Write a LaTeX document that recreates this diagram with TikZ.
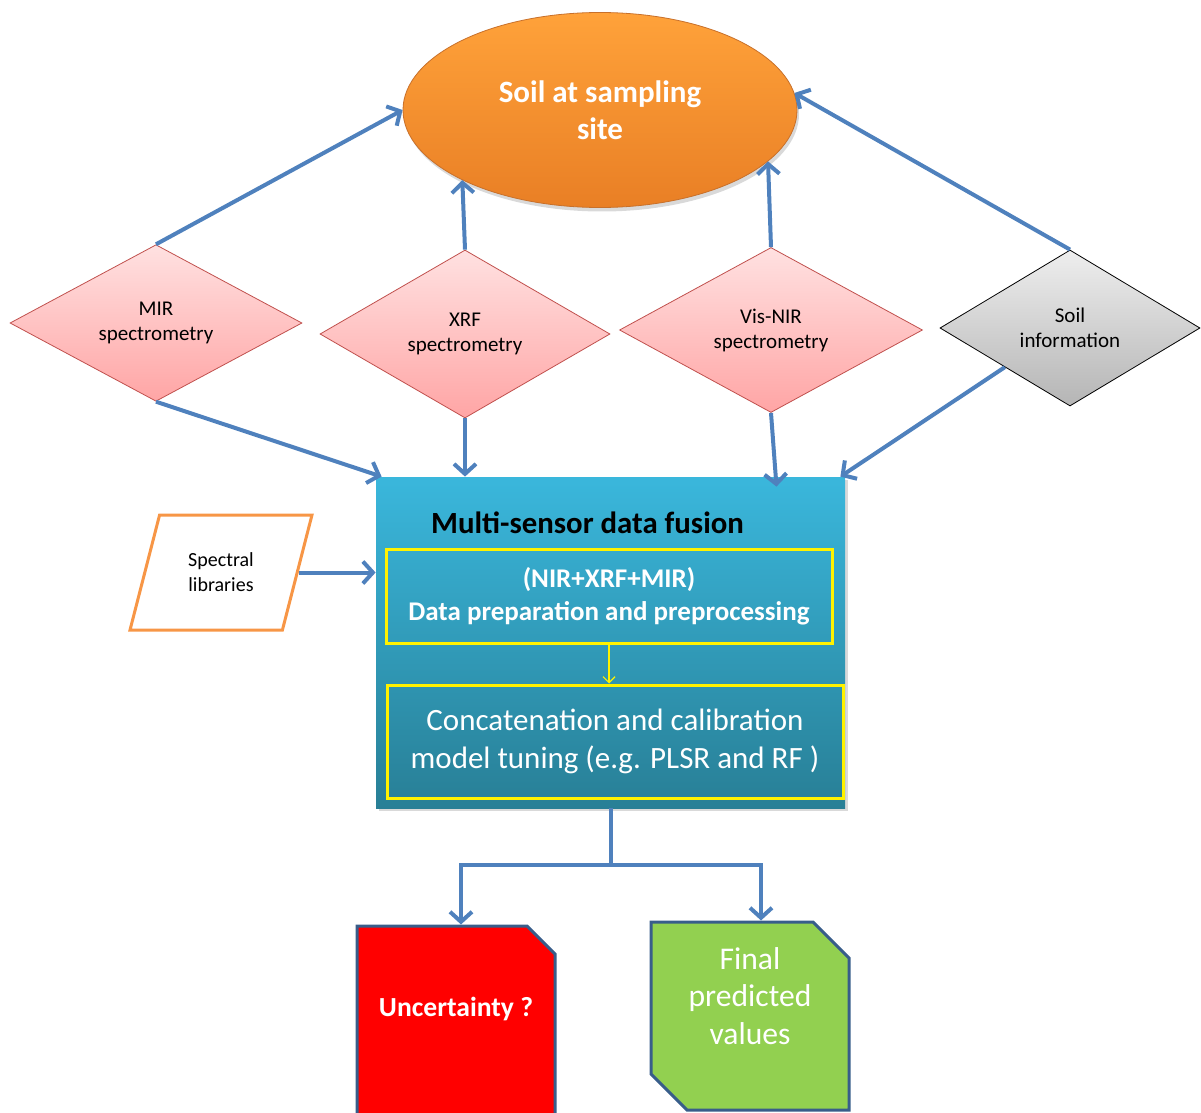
\documentclass[tikz,border=0pt]{standalone}
\usepackage{fontspec}
\setmainfont{Carlito}
\usetikzlibrary{shapes.geometric}
\usetikzlibrary{shapes.misc}
\usetikzlibrary{arrows.meta}
\usetikzlibrary{shadows}

\definecolor{flowblue}{HTML}{4F81BD}
\definecolor{sitetop}{HTML}{FFA23A}
\definecolor{sitebot}{HTML}{E97F25}
\definecolor{siteedge}{HTML}{C8702A}
\definecolor{pinktop}{HTML}{FFE1E1}
\definecolor{pinkbot}{HTML}{FFA5A5}
\definecolor{pinkedge}{HTML}{C0504D}
\definecolor{greytop}{HTML}{EEEEEE}
\definecolor{greybot}{HTML}{B5B5B5}
\definecolor{fusiontop}{HTML}{3AB7DC}
\definecolor{fusionbot}{HTML}{287F96}
\definecolor{libedge}{HTML}{F79646}
\definecolor{outedge}{HTML}{385D8A}
\definecolor{outgreen}{HTML}{92D050}

\begin{document}
\begin{tikzpicture}[x=0.5pt,y=-0.5pt,
sitenode/.style={ellipse,draw=siteedge,top color=sitetop,bottom color=sitebot,inner sep=0pt,
  minimum width=197pt,minimum height=97.5pt,align=center,text=white,
  font=\bfseries\fontsize{15.5}{18.5}\selectfont,drop shadow={opacity=.3,shadow xshift=1pt,shadow yshift=-2pt}},
sensor/.style={diamond,draw=pinkedge,top color=pinktop,bottom color=pinkbot,thin,inner sep=0pt,
  align=center,font=\fontsize{10.5}{12.5}\selectfont},
infoblock/.style={sensor,draw=black,top color=greytop,bottom color=greybot},
libblock/.style={trapezium,trapezium left angle=68,trapezium right angle=112,trapezium stretches=true,
  draw=libedge,line width=1.5pt,fill=white,inner sep=0pt,minimum width=91pt,minimum height=57.5pt,
  align=center,font=\fontsize{10}{12.5}\selectfont},
fusionblock/.style={rectangle,draw=none,top color=fusiontop,bottom color=fusionbot,inner sep=0pt,
  minimum width=234.5pt,minimum height=165.5pt,drop shadow={opacity=.3,shadow xshift=1.5pt,shadow yshift=-1.5pt}},
stepbox/.style={rectangle,draw=yellow,line width=1.5pt,inner sep=0pt,align=center,text=white},
outblock/.style={chamfered rectangle,chamfered rectangle sep=7pt,draw=outedge,line width=1.5pt,
  inner sep=0pt,align=center,text=white,minimum width=99pt},
flow/.style={draw=flowblue,line width=2pt,-{Straight Barb[length=5pt,width=11pt]}},
thinflow/.style={draw=yellow,line width=.6pt,-{Straight Barb[length=3pt,width=6pt]}}]

\useasboundingbox (0,0) rectangle (1201,1113);
\clip (0,0) rectangle (1201,1113);

% top and sensors
\draw (600,110) node[sitenode] (site) {Soil at sampling\\site};
\draw (156,323) node[sensor,minimum width=146pt,minimum height=73.5pt] (mir) {MIR\\spectrometry};
\draw (465,334) node[sensor,minimum width=145pt,minimum height=84pt] (xrf) {XRF\\spectrometry};
\draw (771,330) node[sensor,minimum width=151.5pt,minimum height=82.5pt] (visnir) {Vis-NIR\\spectrometry};
\draw (1070,328) node[infoblock,minimum width=130pt,minimum height=78pt] (soilinfo) {Soil\\information};

% fusion block
\draw (610.5,642.5) node[fusionblock,label={[anchor=north,xshift=-11.5pt,yshift=-14pt,font=\bfseries\fontsize{15.4}{18}\selectfont]north:Multi-sensor data fusion}] (fusion) {};
\draw (609,596) node[stepbox,minimum width=223pt,minimum height=47pt,font=\bfseries\fontsize{13.5}{16.5}\selectfont] (prep) {(NIR+XRF+MIR)\\Data preparation and preprocessing};
\draw (615,741.5) node[stepbox,minimum width=228pt,minimum height=56.5pt,font=\fontsize{15.5}{19}\selectfont] (calib) {Concatenation and calibration\\model tuning (e.g. PLSR and RF )};
\draw (221,572.5) node[libblock] (speclib) {Spectral\\libraries};

% outputs
\draw (456,1033) node[outblock,fill=red,chamfered rectangle corners=north east,minimum height=107pt,
  text depth=26.5pt,font=\bfseries\fontsize{13.8}{15}\selectfont] (unc) {Uncertainty ?};
\draw (750,1016) node[outblock,fill=outgreen,chamfered rectangle corners={north east,south west},
  chamfered rectangle sep=9pt,minimum height=94pt,text depth=20pt,font=\fontsize{15.8}{18.75}\selectfont] (final) {Final\\predicted\\values};

% arrows
\draw[flow] (mir.north) -- (site.west);
\draw[flow] (xrf.north) -- (site.207.7);
\draw[flow] (visnir.north) -- (site.-17.2);
\draw[flow] (soilinfo.north) -- (site.5);
\draw[flow] (mir.south) -- ([xshift=3pt]fusion.north west);
\draw[flow] (xrf.south) -- (xrf.south |- fusion.north);
\draw[flow] (visnir.south) -- ([xshift=83pt,yshift=-5pt]fusion.north);
\draw[flow] (soilinfo.south west) -- ([xshift=-2.5pt]fusion.north east);
\draw[flow] (speclib.east) -- (speclib.east -| fusion.west);
\draw[thinflow] (prep.south) -- (prep.south |- calib.north);
\coordinate (split) at ([yshift=-28.5pt]fusion.south);
\draw[flow,-] (fusion.south) -- (split);
\draw[flow] (split) -| ([xshift=2.5pt]unc.north);
\draw[flow] (split) -| ([xshift=5.5pt]final.north);

\end{tikzpicture}
\end{document}
